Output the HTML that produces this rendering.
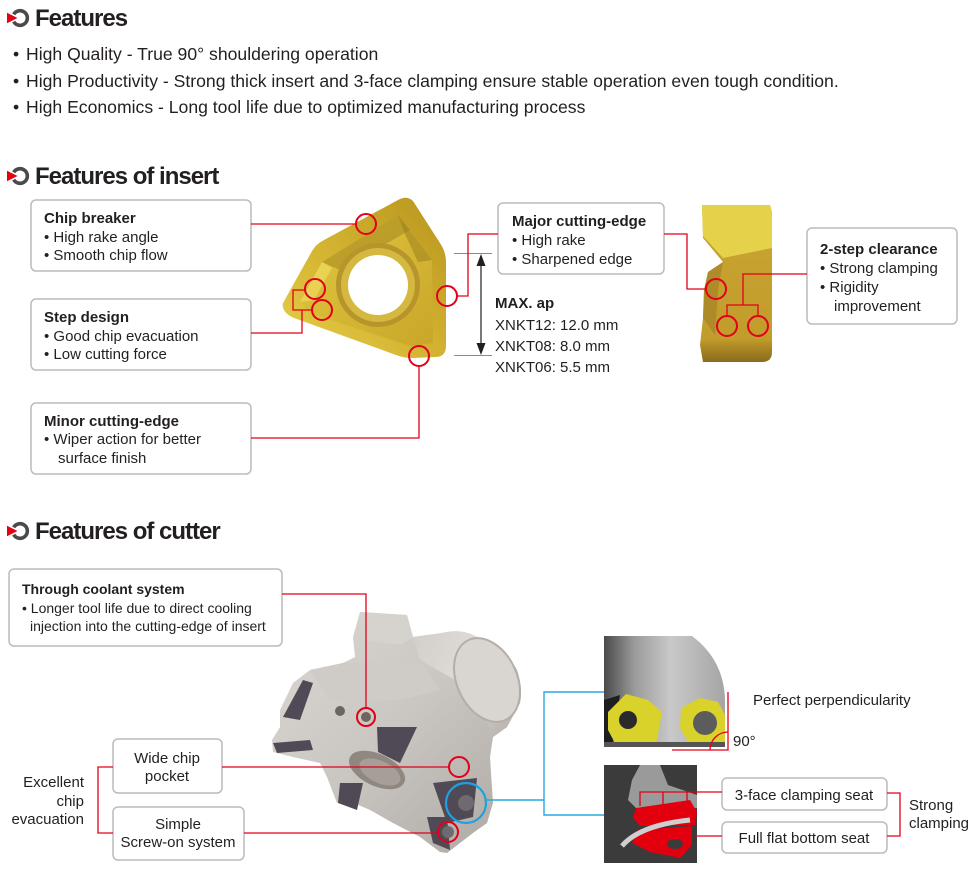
<!DOCTYPE html>
<html><head><meta charset="utf-8"><style>
html,body{margin:0;padding:0;background:#fff;}
body{width:980px;height:895px;overflow:hidden;position:relative;}
svg{position:absolute;left:0;top:0;}
</style></head><body>
<svg width="980" height="895" viewBox="0 0 980 895" xmlns="http://www.w3.org/2000/svg" font-family="'Liberation Sans', Arial, sans-serif" fill="#231f20">
<defs>
<linearGradient id="gold" x1="1" y1="0" x2="0" y2="1">
<stop offset="0" stop-color="#b8951f"/><stop offset="0.5" stop-color="#d2b230"/><stop offset="1" stop-color="#e6cf48"/>
</linearGradient>
<linearGradient id="gold2" x1="0" y1="0" x2="1" y2="1">
<stop offset="0" stop-color="#e2c93f"/><stop offset="1" stop-color="#c9a62a"/>
</linearGradient>
<linearGradient id="side" x1="0" y1="0" x2="0" y2="1">
<stop offset="0" stop-color="#c9a532"/><stop offset="0.85" stop-color="#c29c2c"/><stop offset="1" stop-color="#8a6a1c"/>
</linearGradient>
<linearGradient id="silver" x1="0" y1="0" x2="1" y2="1">
<stop offset="0" stop-color="#dcd8d3"/><stop offset="0.5" stop-color="#c9c5c0"/><stop offset="1" stop-color="#aca7a1"/>
</linearGradient>
<linearGradient id="shank" x1="0" y1="0" x2="1" y2="0.4">
<stop offset="0" stop-color="#d2cec9"/><stop offset="0.6" stop-color="#e0dcd7"/><stop offset="1" stop-color="#bdb8b2"/>
</linearGradient>
<linearGradient id="det1" x1="0" y1="0" x2="1" y2="0">
<stop offset="0" stop-color="#4a4a4a"/><stop offset="0.25" stop-color="#9a9a9a"/><stop offset="0.55" stop-color="#c9c9c9"/><stop offset="1" stop-color="#a5a5a5"/>
</linearGradient>
</defs>

<!-- Heading icons -->
<g>
<path d="M13.7,14.4 A7.3,7.3 0 1 1 13.7,21.6" fill="none" stroke="#4a4a4a" stroke-width="3.6"/>
<polygon points="7,12.8 7,23.2 17.5,18" fill="#e60012"/>
</g>
<g transform="translate(0,158)">
<path d="M13.7,14.4 A7.3,7.3 0 1 1 13.7,21.6" fill="none" stroke="#4a4a4a" stroke-width="3.6"/>
<polygon points="7,12.8 7,23.2 17.5,18" fill="#e60012"/>
</g>
<g transform="translate(0,513)">
<path d="M13.7,14.4 A7.3,7.3 0 1 1 13.7,21.6" fill="none" stroke="#4a4a4a" stroke-width="3.6"/>
<polygon points="7,12.8 7,23.2 17.5,18" fill="#e60012"/>
</g>

<text x="35" y="26" font-size="24" font-weight="bold" letter-spacing="-1">Features</text>
<text x="35" y="184" font-size="24" font-weight="bold" letter-spacing="-1">Features of insert</text>
<text x="35" y="539" font-size="24" font-weight="bold" letter-spacing="-1">Features of cutter</text>

<g font-size="17.6">
<text x="13" y="60">•</text><text x="26" y="60">High Quality - True 90° shouldering operation</text>
<text x="13" y="87">•</text><text x="26" y="87">High Productivity - Strong thick insert and 3-face clamping ensure stable operation even tough condition.</text>
<text x="13" y="113">•</text><text x="26" y="113">High Economics - Long tool life due to optimized manufacturing process</text>
</g>

<!-- ============ INSERT SECTION ============ -->
<path d="M283,303 L312,251 Q316,244 324,240 L398,200 Q407,195 413,201 L440,243 Q446,252 446,262 L446,346 Q446,357 435,357 L413,358 Q404,358 396,355 L294,318 Q281,312 283,303 Z" fill="url(#gold)"/>
<path d="M300,302 L322,262 L398,215 L432,260 L433,343 L410,346 L310,313 Z" fill="url(#gold2)"/>
<path d="M322,262 L398,215 L410,230 L340,270 Z" fill="#a88a22" opacity="0.6"/>
<path d="M398,215 L432,260 L418,262 L404,232 Z" fill="#9c7f1e" opacity="0.55"/>
<path d="M300,302 L322,262 L332,268 L314,300 Z" fill="#efdc60" opacity="0.7"/>
<circle cx="378" cy="285" r="42" fill="#b8952a"/>
<circle cx="378" cy="285" r="37" fill="#d4b840"/>
<circle cx="378" cy="285" r="30" fill="#fff"/>

<!-- side insert -->
<path d="M702,205 L770,205 L772,212 L772,352 Q772,362 762,362 L703,362 L700,345 L703,318 L704,290 L708,272 L723,262 L703,238 Z" fill="url(#side)"/>
<path d="M702,205 L770,205 L772,212 L772,248 L723,258 L703,236 Z" fill="#e5d24a"/>
<path d="M723,262 L708,272 L704,290 L703,318 L715,335 L718,290 Z" fill="#a98628" opacity="0.8"/>

<!-- boxes -->
<g fill="#fff" stroke="#bcbcbc" stroke-width="1.5">
<rect x="31" y="200" width="220" height="71" rx="5"/>
<rect x="31" y="299" width="220" height="71" rx="5"/>
<rect x="31" y="403" width="220" height="71" rx="5"/>
<rect x="498" y="203" width="166" height="71" rx="5"/>
<rect x="807" y="228" width="150" height="96" rx="5"/>
</g>

<g font-size="15">
<text x="44" y="223" font-weight="bold">Chip breaker</text>
<text x="44" y="242">• High rake angle</text>
<text x="44" y="260">• Smooth chip flow</text>
<text x="44" y="322" font-weight="bold">Step design</text>
<text x="44" y="341">• Good chip evacuation</text>
<text x="44" y="359">• Low cutting force</text>
<text x="44" y="426" font-weight="bold">Minor cutting-edge</text>
<text x="44" y="444">• Wiper action for better</text>
<text x="58" y="463">surface finish</text>
<text x="512" y="226" font-weight="bold">Major cutting-edge</text>
<text x="512" y="245">• High rake</text>
<text x="512" y="264">• Sharpened edge</text>
<text x="820" y="254" font-weight="bold">2-step clearance</text>
<text x="820" y="273">• Strong clamping</text>
<text x="820" y="292">• Rigidity</text>
<text x="834" y="311">improvement</text>
<text x="495" y="308" font-weight="bold">MAX. ap</text>
<text x="495" y="330">XNKT12: 12.0 mm</text>
<text x="495" y="351">XNKT08: 8.0 mm</text>
<text x="495" y="372">XNKT06: 5.5 mm</text>
</g>

<!-- dimension -->
<g stroke="#8a8a8a" stroke-width="1">
<line x1="454" y1="253.5" x2="492" y2="253.5"/>
<line x1="454" y1="355.5" x2="492" y2="355.5"/>
</g>
<line x1="481" y1="262" x2="481" y2="347" stroke="#231f20" stroke-width="1.2"/>
<polygon points="481,254 476.5,266 485.5,266" fill="#231f20"/>
<polygon points="481,355 476.5,343 485.5,343" fill="#231f20"/>

<!-- red connectors insert -->
<g fill="none" stroke="#e2001a" stroke-width="1.3">
<polyline points="251,224 356,224"/>
<polyline points="251,333 302,333 302,310 312,310"/>
<polyline points="305,290 293,290 293,310 302,310"/>
<polyline points="251,438 419,438 419,366"/>
<polyline points="457,296 468,296 468,234 498,234"/>
<polyline points="664,234 687,234 687,289 706,289"/>
<polyline points="807,274 743,274 743,305"/>
<polyline points="727,316 727,305 758,305 758,316"/>
</g>
<g fill="none" stroke="#e2001a" stroke-width="2">
<circle cx="366" cy="224" r="10"/>
<circle cx="315" cy="289" r="10"/>
<circle cx="322" cy="310" r="10"/>
<circle cx="447" cy="296" r="10"/>
<circle cx="419" cy="356" r="10"/>
<circle cx="716" cy="289" r="10"/>
<circle cx="727" cy="326" r="10"/>
<circle cx="758" cy="326" r="10"/>
</g>

<!-- ============ CUTTER SECTION ============ -->
<path d="M360,612 L407,615 L413,637 L442,633 Q462,628 477,637 Q505,650 517,670 Q523,688 520,703 L507,727 L493,737 L490,757 L493,803 L487,823 L473,833 L447,853 L440,852 L420,837 L393,823 L370,810 L347,800 L337,803 L327,777 L320,763 L293,757 L273,752 L272,740 L280,727 L280,710 L293,683 L310,670 L343,663 L355,657 L353,637 Z" fill="url(#silver)"/>
<path d="M442,633 Q462,628 477,637 Q505,650 517,670 Q523,688 520,703 L507,727 L493,737 Q480,700 455,680 L420,660 L413,637 Z" fill="url(#shank)"/>
<ellipse cx="487" cy="680" rx="30" ry="44" transform="rotate(-25 487 680)" fill="#d9d5d0" stroke="#b3aea8" stroke-width="2"/>
<path d="M360,612 L407,615 L413,637 L400,645 L365,640 Z" fill="#d6d2cd"/>
<path d="M310,670 L343,663 L420,662 L440,690 L400,700 L330,700 Z" fill="#cfcbc6"/>
<ellipse cx="377" cy="770" rx="30" ry="16" transform="rotate(25 377 770)" fill="#8f8881"/>
<ellipse cx="380" cy="772" rx="22" ry="11" transform="rotate(25 380 772)" fill="#a69f97"/>
<g fill="#4f4a56">
<polygon points="303,680 313,683 300,720 283,717"/>
<polygon points="273,743 310,740 313,750 277,753"/>
<polygon points="377,727 417,727 400,763 378,752"/>
<polygon points="340,783 363,783 357,810 338,803"/>
<polygon points="433,783 477,778 473,817 447,823"/>
<polygon points="427,817 447,817 450,850 433,843"/>
</g>
<circle cx="466" cy="803" r="8" fill="#6e6a70"/>
<circle cx="448" cy="832" r="6" fill="#6e6a70"/>
<circle cx="340" cy="711" r="5" fill="#6b6660"/>
<circle cx="366" cy="717" r="5" fill="#6b6660"/>

<!-- top detail image -->
<rect x="604" y="636" width="121" height="111" fill="url(#det1)"/>
<path d="M692,636 L725,636 L725,700 Q724,660 692,636 Z" fill="#fff"/>
<path d="M604,700 L620,695 L612,747 L604,747 Z" fill="#1e1e1e"/>
<path d="M608,712 L626,694 L648,700 L662,712 L656,745 L616,745 L608,730 Z" fill="#d9d22a"/>
<circle cx="628" cy="720" r="9" fill="#2a2a2a"/>
<path d="M681,708 L700,698 L718,702 L725,715 L725,745 L690,745 L680,728 Z" fill="#d9d22a"/>
<circle cx="705" cy="723" r="12" fill="#5c5c5c"/>
<rect x="604" y="742" width="121" height="5" fill="#555"/>

<!-- bottom detail image -->
<rect x="604" y="765" width="93" height="98" fill="#3b3b3b"/>
<path d="M640,765 L660,765 L668,785 L697,795 L697,808 L640,812 L628,800 L632,780 Z" fill="#9a9a9a"/>
<path d="M636,808 L690,800 L697,812 L695,825 L640,826 L633,818 Z" fill="#e2000f"/>
<path d="M638,830 L692,826 L692,845 L680,858 L650,852 L632,843 Z" fill="#e2000f"/>
<ellipse cx="675" cy="844" rx="8" ry="5" fill="#3b3b3b"/>
<path d="M622,846 Q640,825 690,820" fill="none" stroke="#cfcfcf" stroke-width="5"/>

<!-- cutter boxes -->
<g fill="#fff" stroke="#bcbcbc" stroke-width="1.5">
<rect x="9" y="569" width="273" height="77" rx="5"/>
<rect x="113" y="739" width="109" height="54" rx="5"/>
<rect x="113" y="807" width="131" height="53" rx="5"/>
<rect x="722" y="778" width="165" height="32" rx="5"/>
<rect x="722" y="822" width="165" height="31" rx="5"/>
</g>

<text x="22" y="594" font-size="14" font-weight="bold">Through coolant system</text>
<text x="22" y="613" font-size="14">• Longer tool life due to direct cooling</text>
<text x="30" y="631" font-size="14">injection into the cutting-edge of insert</text>

<g font-size="15">
<text x="167" y="763" text-anchor="middle">Wide chip</text>
<text x="167" y="781" text-anchor="middle">pocket</text>
<text x="178" y="829" text-anchor="middle">Simple</text>
<text x="178" y="847" text-anchor="middle">Screw-on system</text>
<text x="84" y="787" text-anchor="end">Excellent</text>
<text x="84" y="806" text-anchor="end">chip</text>
<text x="84" y="824" text-anchor="end">evacuation</text>
<text x="753" y="705">Perfect perpendicularity</text>
<text x="733" y="746">90°</text>
<text x="804" y="800" text-anchor="middle">3-face clamping seat</text>
<text x="804" y="843" text-anchor="middle">Full flat bottom seat</text>
<text x="909" y="810">Strong</text>
<text x="909" y="828">clamping</text>
</g>

<!-- red connectors cutter -->
<g fill="none" stroke="#e2001a" stroke-width="1.3">
<polyline points="282,594 366,594 366,708"/>
<polyline points="113,767 98,767 98,833 113,833"/>
<polyline points="222,767 449,767"/>
<polyline points="244,833 438,833"/>
<polyline points="722,792 640,792 640,806"/>
<polyline points="663,792 663,806"/>
<polyline points="687,792 687,806"/>
<polyline points="722,836 695,836"/>
<polyline points="887,793 900,793 900,836 887,836"/>
<polyline points="728,692 728,750 672,750"/>
<path d="M710,750 A18,18 0 0 1 728,732"/>
</g>
<g fill="none" stroke="#e2001a" stroke-width="2">
<circle cx="366" cy="717" r="9"/>
<circle cx="459" cy="767" r="10"/>
<circle cx="448" cy="832" r="10"/>
</g>

<!-- blue connectors -->
<g fill="none" stroke="#29a8e0" stroke-width="1.4">
<polyline points="486,800 544,800"/>
<polyline points="604,692 544,692 544,815 604,815"/>
</g>
<circle cx="466" cy="803" r="20" fill="none" stroke="#1fa0e0" stroke-width="2.2"/>
</svg>
</body></html>
